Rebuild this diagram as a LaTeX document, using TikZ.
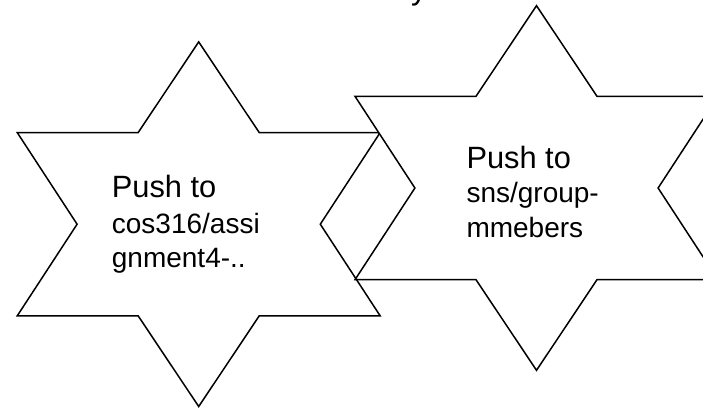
\documentclass[tikz,border=0pt]{standalone}
\usepackage{fontspec}
\setmainfont{Liberation Sans}
\begin{document}
\begin{tikzpicture}[x=1pt,y=-1pt,
  starline/.style={draw=black, line width=1.5pt, line join=miter, fill=white},
  headtext/.style={anchor=base west, inner sep=0pt, font=\fontsize{30.8}{34}\selectfont},
  bodytext/.style={anchor=base west, inner sep=0pt, font=\fontsize{28}{34}\selectfont}]
\useasboundingbox (0,0) rectangle (703,408);
\clip (0,0) rectangle (703,408);

% six-pointed star, stretched a little in width, centred at #1
\newcommand\hexstar[1]{%
  \draw[starline, shift={#1}]
    (0,-182.3) -- (60.5,-91.7) -- (181.5,-91.7) -- (121.6,0)
    -- (181.5,91.7) -- (60.5,91.7) -- (0,182.3) -- (-60.5,91.7)
    -- (-181.5,91.7) -- (-121.6,0) -- (-181.5,-91.7) -- (-60.5,-91.7)
    -- cycle;}

% title above, only its descender remains on the page
\node[anchor=base west, inner sep=0pt, font=\fontsize{32}{32}\selectfont] (titletail) at (411,-1) {y};

% left star
\hexstar{(198.7,224.2)}
\node[headtext] (lefthead) at (111.7,197.3) {Push to};
\node[bodytext] (leftline1) at (111.7,233) {cos316/assi};
\node[bodytext] (leftline2) at (111.7,267) {gnment4-..};

% right star
\hexstar{(536.5,188)}
\node[headtext] (righthead) at (466.3,168.3) {Push to};
\node[bodytext] (rightline1) at (466.3,202.5) {sns/group-};
\node[bodytext] (rightline2) at (466.3,237) {mmebers};
\end{tikzpicture}
\end{document}
